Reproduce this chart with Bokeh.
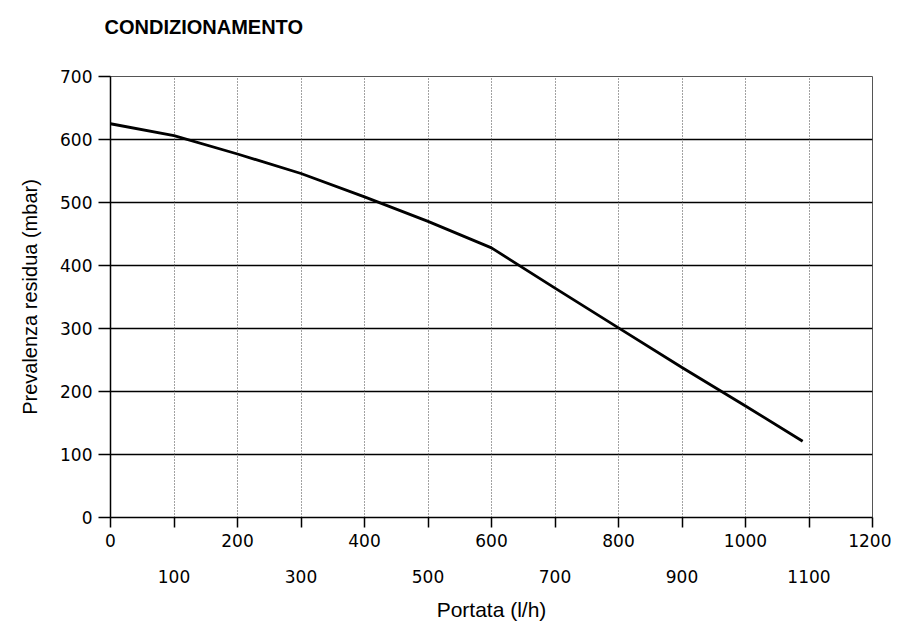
from bokeh.plotting import figure
from bokeh.models import LinearAxis, FixedTicker, Range1d, Grid, Title
from bokeh.embed import file_html
from bokeh.resources import INLINE

# Data
title_text = "CONDIZIONAMENTO"
portata = [0, 100, 200, 300, 400, 500, 600, 700, 800, 900, 1000, 1090]
prevalenza = [625, 606, 577, 546, 509, 470, 428, 364, 301, 238, 177, 121]

x_ticks_all = list(range(0, 1201, 100))
x_ticks_odd = list(range(100, 1200, 200))
y_ticks = list(range(0, 701, 100))

p = figure(width=891, height=623, output_backend="svg", toolbar_location=None,
           x_range=Range1d(0, 1200), y_range=Range1d(0, 700),
           x_axis_type=None, min_border_left=110, min_border_right=19,
           min_border_top=76, min_border_bottom=103)
p.title.text = ""
p.title.standoff = 0

# spacer between frame and title, then the title above it
spacer = Title(text=" ", text_font_size="10px", standoff=26)
p.add_layout(spacer, "above")
main_title = Title(text=title_text, align="left", offset=-6, standoff=0,
                   text_font="Liberation Sans", text_font_style="bold",
                   text_font_size="20px", text_color="black")
p.add_layout(main_title, "above")

p.background_fill_color = "white"
p.border_fill_color = "white"
p.outline_line_color = "#555555"
p.outline_line_width = 1

# x axis 1 (ticks + even labels)
ax1 = LinearAxis(ticker=FixedTicker(ticks=x_ticks_all))
ax1.major_label_overrides = {t: ("" if t % 200 else str(t)) for t in x_ticks_all}
ax1.axis_line_color = "black"
ax1.axis_line_width = 1.5
ax1.major_tick_line_color = "black"
ax1.major_tick_line_width = 1.5
ax1.major_tick_in = 0
ax1.major_tick_out = 10
ax1.minor_tick_line_color = None
ax1.major_label_standoff = 6
ax1.major_label_text_font = "DejaVu Sans"
ax1.major_label_text_font_size = "17px"
ax1.major_label_text_color = "black"
p.add_layout(ax1, "below")

# x axis 2 (odd labels + axis label)
ax2 = LinearAxis(ticker=FixedTicker(ticks=x_ticks_odd))
ax2.axis_line_color = None
ax2.major_tick_line_color = None
ax2.minor_tick_line_color = None
ax2.major_tick_in = 0
ax2.major_tick_out = 0
ax2.major_label_standoff = 20
ax2.major_label_text_font = "DejaVu Sans"
ax2.major_label_text_font_size = "17px"
ax2.major_label_text_color = "black"
ax2.axis_label = "Portata (l/h)"
ax2.axis_label_text_font = "Liberation Sans"
ax2.axis_label_text_font_style = "normal"
ax2.axis_label_text_font_size = "21px"
ax2.axis_label_text_color = "black"
ax2.axis_label_standoff = 12
p.add_layout(ax2, "below")

ya = p.yaxis[0]
ya.ticker = FixedTicker(ticks=y_ticks)
ya.axis_line_color = "black"
ya.axis_line_width = 1.5
ya.major_tick_line_color = "black"
ya.major_tick_line_width = 1.5
ya.major_tick_in = 0
ya.major_tick_out = 12
ya.minor_tick_line_color = None
ya.major_label_standoff = 6
ya.major_label_text_font = "DejaVu Sans"
ya.major_label_text_font_size = "17px"
ya.major_label_text_color = "black"
ya.axis_label = "Prevalenza residua (mbar)"
ya.axis_label_text_font = "Liberation Sans"
ya.axis_label_text_font_style = "normal"
ya.axis_label_text_font_size = "20px"
ya.axis_label_text_color = "black"
ya.axis_label_standoff = 16

# grids
xg = Grid(dimension=0, ticker=FixedTicker(ticks=x_ticks_all[1:-1]),
          grid_line_color="#444444", grid_line_width=1, grid_line_dash="1 2")
p.add_layout(xg)
p.ygrid.ticker = FixedTicker(ticks=y_ticks)
p.ygrid.grid_line_color = "black"
p.ygrid.grid_line_width = 1.5

p.line(portata, prevalenza, line_color="black", line_width=2.8)

open("out.html", "w").write(file_html(p, INLINE))
